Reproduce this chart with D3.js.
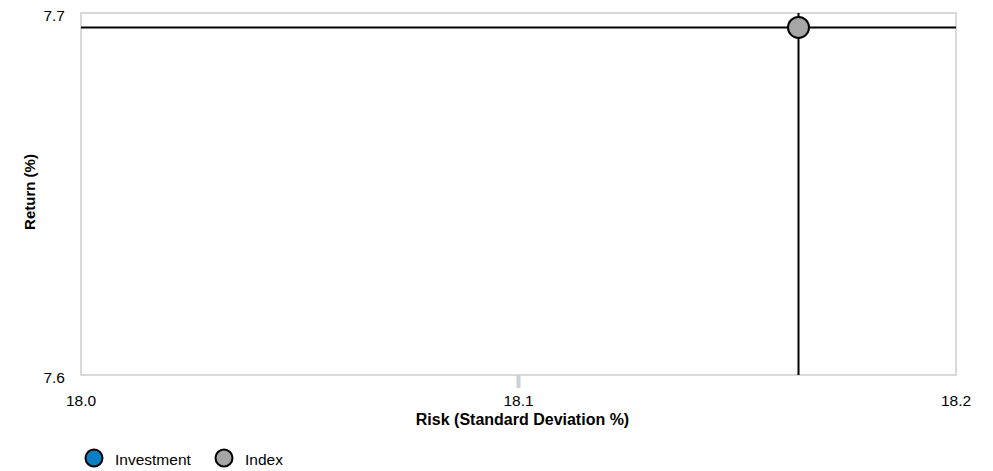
<!DOCTYPE html>
<html>
<head>
<meta charset="utf-8">
<script src="https://cdn.jsdelivr.net/npm/d3@7"></script>
<style>
html,body{margin:0;padding:0;background:#fff;}
text{font-family:"Liberation Sans",Arial,sans-serif;}
</style>
</head>
<body>
<svg id="chart" width="993" height="471"></svg>
<script>
const xTicks = [18.0, 18.1, 18.2];
const yTicks = [7.6, 7.7];
const seriesNames = ["Investment", "Index"];
const seriesColors = ["#0a7fc4", "#a6a6a6"];
const riskValues = [null, 18.164];
const returnValues = [null, 7.696];

const svg = d3.select("#chart");
const pLeft = 81, pRight = 956, pTop = 13, pBottom = 375;
const x = d3.scaleLinear().domain([18.0, 18.2]).range([pLeft, pRight]);
const y = d3.scaleLinear().domain([7.6, 7.7]).range([pBottom, pTop]);

// plot border
svg.append("rect").attr("x", pLeft).attr("y", pTop).attr("width", pRight-pLeft).attr("height", pBottom-pTop)
  .attr("fill", "none").attr("stroke", "#d9d9d9").attr("stroke-width", 2);

// middle x tick
svg.append("line").attr("x1", x(18.1)).attr("x2", x(18.1)).attr("y1", pBottom).attr("y2", pBottom+13)
  .attr("stroke", "#ccd1d6").attr("stroke-width", 4);

// tick labels
svg.selectAll(".xt").data(xTicks).enter().append("text")
  .attr("x", d => x(d)).attr("y", 406).attr("text-anchor", "middle")
  .attr("font-size", 15.5).attr("fill", "#000").text(d => d.toFixed(1));
svg.selectAll(".yt").data(yTicks).enter().append("text")
  .attr("x", 65).attr("y", d => y(d) + 7.5).attr("text-anchor", "end")
  .attr("font-size", 15.5).attr("fill", "#000").text(d => d.toFixed(1));

// axis titles
svg.append("text").attr("x", (pLeft+pRight)/2 + 4).attr("y", 425).attr("text-anchor", "middle")
  .attr("font-size", 16).attr("font-weight", "bold").text("Risk (Standard Deviation %)");
svg.append("text").attr("transform", `translate(35,192) rotate(-90)`)
  .attr("text-anchor", "middle").attr("font-size", 15).attr("font-weight", "bold").text("Return (%)");

// crosshair lines + points
seriesNames.forEach((name, i) => {
  if (riskValues[i] == null) return;
  const px = x(riskValues[i]), py = y(returnValues[i]);
  svg.append("line").attr("x1", pLeft).attr("x2", pRight).attr("y1", py).attr("y2", py)
    .attr("stroke", "#000").attr("stroke-width", 2);
  svg.append("line").attr("x1", px).attr("x2", px).attr("y1", pTop).attr("y2", pBottom)
    .attr("stroke", "#000").attr("stroke-width", 2);
  svg.append("circle").attr("cx", px).attr("cy", py).attr("r", 10.5)
    .attr("fill", seriesColors[i]).attr("stroke", "#000").attr("stroke-width", 2);
});

// legend
const legendX = [94, 224];
seriesNames.forEach((name, i) => {
  svg.append("circle").attr("cx", legendX[i]).attr("cy", 458).attr("r", 8.5)
    .attr("fill", seriesColors[i]).attr("stroke", "#000").attr("stroke-width", 2);
  svg.append("text").attr("x", legendX[i] + 21).attr("y", 465)
    .attr("font-size", 15.5).attr("fill", "#000").text(name);
});
</script>
</body>
</html>
